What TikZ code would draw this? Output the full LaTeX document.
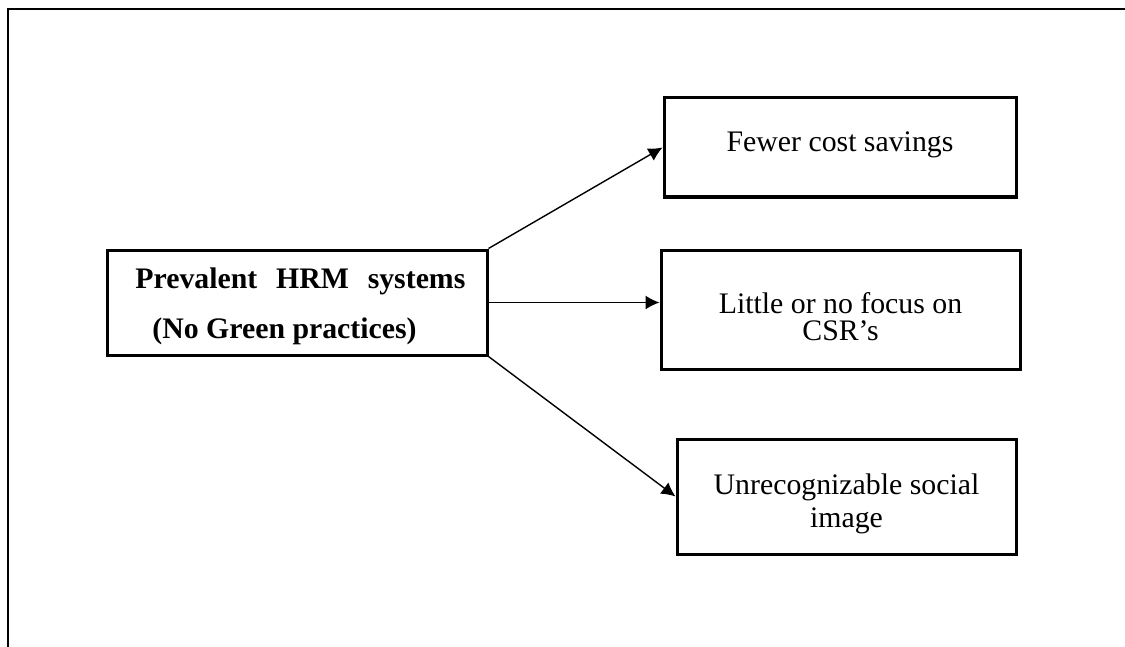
\documentclass[tikz,border=0pt]{standalone}
\usepackage{fontspec}
\setmainfont{Liberation Serif}
\usetikzlibrary{arrows.meta}
\begin{document}
\begin{tikzpicture}[x=0.5pt,y=-0.5pt,
  box/.style={draw,line width=1.5pt,inner sep=0pt,rectangle},
  lbl/.style={anchor=base,inner sep=0pt,font=\fontsize{14.9}{18}\selectfont},
  lblb/.style={anchor=base west,inner sep=0pt,font=\fontsize{14.9}{18}\selectfont\bfseries},
  conn/.style={line width=0.7pt,-{Latex[length=7pt,width=7pt]}},
  frameline/.style={line width=1.1pt}]
\useasboundingbox (0,0) rectangle (1125,647);
% outer frame
\draw[frameline] (8,647) -- (8,9) -- (1125,9);
% boxes
\node[box,minimum width=190pt,minimum height=52.5pt] (hrm) at (297,302.5) {};
\node[box,minimum width=176pt,minimum height=49.5pt] (b1) at (840,147.5) {};
\node[box,minimum width=179.5pt,minimum height=59.5pt] (b2) at (840.5,309.5) {};
\node[box,minimum width=169.5pt,minimum height=57.5pt] (b3) at (846.5,496.5) {};
% texts
\node[lblb] (hrm1) at (135,288) {\makebox[165pt][s]{Prevalent HRM systems}};
\node[lblb] (hrm2) at (152,338) {(No Green practices)};
\node[lbl] (t1) at (840,152) {Fewer cost savings};
\node[lbl] (t2a) at (840.5,313) {Little or no focus on};
\node[lbl] (t2b) at (840.5,340) {CSR’s};
\node[lbl] (t3a) at (846.5,494) {Unrecognizable social};
\node[lbl] (t3b) at (846.5,527) {image};
% connectors
\draw[conn] (hrm.north east) -- (b1.west);
\draw[conn] (hrm.east) -- (hrm.east -| b2.west);
\draw[conn] (hrm.south east) -- (b3.west);
\end{tikzpicture}
\end{document}
